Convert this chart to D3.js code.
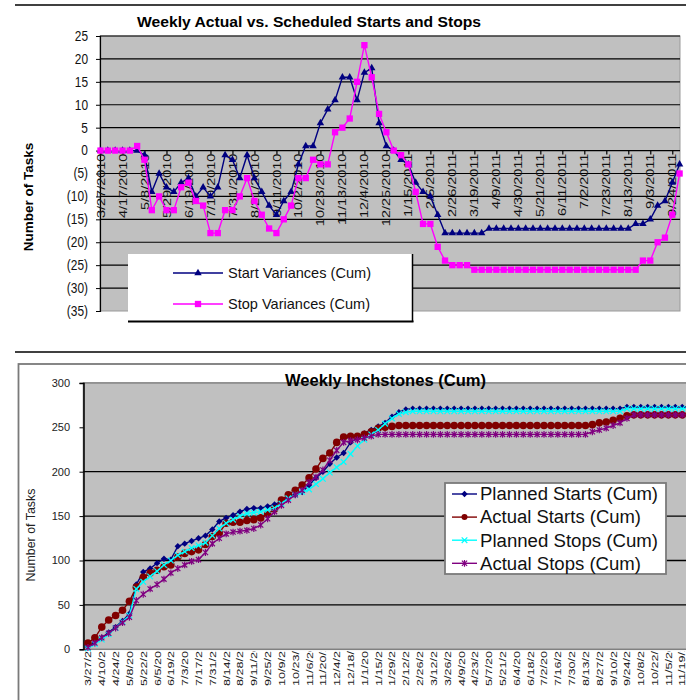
<!DOCTYPE html>
<html>
<head>
<meta charset="utf-8">
<script src="https://cdn.jsdelivr.net/npm/d3@7"></script>
<style>
  html, body { margin: 0; padding: 0; background: #fff; }
  svg { display: block; font-family: "Liberation Sans", Arial, sans-serif; }
</style>
</head>
<body>
<script>
// ---------- Weekly variance chart (cumulative) ----------
const varianceTickLabels = [
  "3/27/2010","4/17/2010","5/8/2010","5/29/2010","6/19/2010","7/10/2010","7/31/2010",
  "8/21/2010","9/11/2010","10/2/2010","10/23/2010","11/13/2010","12/4/2010","12/25/2010",
  "1/15/2011","2/5/2011","2/26/2011","3/19/2011","4/9/2011","4/30/2011","5/21/2011",
  "6/11/2011","7/2/2011","7/23/2011","8/13/2011","9/3/2011","9/24/2011"
];
const varianceYTicks = [25,20,15,10,5,0,-5,-10,-15,-20,-25,-30,-35];

const startVariances = [
  0,0,0,0,0,0,-1,-9,-5,-8,
  -9,-7,-6,-10,-8,-10,-8,-1,-2,-6,
  -1,-6,-9,-12,-14,-11,-9,-3,1,1,
  6,9,11,16,16,11,17,18,6,1,
  0,-2,-3,-7,-9,-10,-14,-18,-18,-18,
  -18,-18,-18,-17,-17,-17,-17,-17,-17,-17,
  -17,-17,-17,-17,-17,-17,-17,-17,-17,-17,
  -17,-17,-17,-16,-16,-15,-12,-11,-7,-3
];
const stopVariances = [
  0,0,0,0,0,1,-2,-13,-10,-13,
  -13,-8,-7,-11,-12,-18,-18,-13,-13,-10,
  -6,-11,-14,-17,-18,-15,-12,-6,-6,-2,
  -3,-3,4,5,7,15,23,16,8,4,
  0,-1,-3,-9,-16,-16,-21,-24,-25,-25,
  -25,-26,-26,-26,-26,-26,-26,-26,-26,-26,
  -26,-26,-26,-26,-26,-26,-26,-26,-26,-26,
  -26,-26,-26,-26,-24,-24,-20,-19,-14,-5
];

// ---------- Weekly inchstones chart (cumulative) ----------
const inchTickLabels = [
  "3/27/2010","4/10/2010","4/24/2010","5/8/2010","5/22/2010","6/5/2010","6/19/2010",
  "7/3/2010","7/17/2010","7/31/2010","8/14/2010","8/28/2010","9/11/2010","9/25/2010",
  "10/9/2010","10/23/2010","11/6/2010","11/20/2010","12/4/2010","12/18/2010",
  "1/1/2011","1/15/2011","1/29/2011","2/12/2011","2/26/2011","3/12/2011","3/26/2011",
  "4/9/2011","4/23/2011","5/7/2011","5/21/2011","6/4/2011","6/18/2011","7/2/2011",
  "7/16/2011","7/30/2011","8/13/2011","8/27/2011","9/10/2011","9/24/2011","10/8/2011",
  "10/22/2011","11/5/2011","11/19/2011"
];
const inchYTicks = [0,50,100,150,200,250,300];
const inchGridValues = [50,100,150,200];

const plannedStarts = [
  3,8,13,19,25,32,40,73,87,91,
  97,102,101,116,119,122,125,128,135,144,
  148,151,155,158,159,159,161,163,167,171,
  174,177,185,193,200,209,216,221,233,238,
  243,247,251,255,262,267,270,271,271,271,
  271,271,271,271,271,271,271,271,271,271,
  271,271,271,271,271,271,271,271,271,271,
  271,271,271,271,271,271,271,271,273,273,
  273,273,273,273,273,273,273,273,273
];
const actualStarts = [
  7,13,25,33,38,44,54,70,81,86,
  89,93,95,104,108,110,112,118,127,131,
  142,143,143,145,146,148,152,158,168,174,
  179,185,193,203,215,221,233,239,240,240,
  242,245,249,250,251,252,252,252,252,252,
  252,252,252,252,252,252,252,252,252,252,
  252,252,252,252,252,252,252,252,252,252,
  252,252,252,253,255,256,258,260,263,264,
  264,264,264,264,264,264,264,264,264
];
const plannedStops = [
  1,6,11,17,24,31,38,68,76,82,
  88,95,100,106,110,114,117,120,128,136,
  142,146,150,153,154,155,157,159,164,170,
  174,177,180,186,192,199,205,211,220,229,
  236,242,247,254,260,265,267,268,268,268,
  268,268,268,268,268,268,268,268,268,268,
  268,268,268,268,268,268,268,268,268,268,
  268,268,268,268,268,268,268,268,271,271,
  271,271,271,271,271,271,271,271,271
];
const actualStops = [
  2,7,13,18,24,30,36,55,62,68,
  73,79,86,91,95,99,101,109,119,125,
  130,132,133,134,136,140,147,155,162,168,
  174,179,188,194,202,213,224,233,235,236,
  238,240,242,242,242,242,242,242,242,242,
  242,242,242,242,242,242,242,242,242,242,
  242,242,242,242,242,242,242,242,242,242,
  242,242,242,245,247,249,252,255,260,264,
  264,264,264,264,264,264,264,264,264
];

const svg = d3.select("body").append("svg").attr("width", 686).attr("height", 700);
const FONT = "'Liberation Sans', Arial, sans-serif";

// text helper: translate, optional horizontal squeeze, optional rotation
function label(parent, x, y, str, o = {}) {
  const g = parent.append("g")
    .attr("transform", `translate(${x},${y}) scale(${o.sx || 1},1)` + (o.rot ? ` rotate(${o.rot})` : ""));
  const t = g.append("text")
    .attr("x", 0).attr("y", 0)
    .attr("font-family", FONT)
    .attr("font-size", o.size || 12)
    .attr("font-weight", o.bold ? "bold" : "normal")
    .attr("fill", o.fill || "#000")
    .attr("text-anchor", o.anchor || "start")
    .attr("dy", o.dy || 0)
    .text(str);
  if (o.len) t.attr("textLength", o.len).attr("lengthAdjust", "spacingAndGlyphs");
  return t;
}

// ================= TOP CHART =================
const topG = svg.append("g");
topG.append("line").attr("x1", 15).attr("x2", 686).attr("y1", 5).attr("y2", 5)
  .attr("stroke", "#000").attr("stroke-width", 1.5);

const xT = d3.scalePoint().domain(d3.range(startVariances.length)).range([100.5, 679.6]);
const yT = d3.scaleLinear().domain([-35, 25]).range([311, 36]);

topG.append("rect").attr("x", 100).attr("y", 36).attr("width", 580).attr("height", 275)
  .attr("fill", "#c0c0c0").attr("stroke", "#9a9a9a").attr("stroke-width", 1);

// horizontal gridlines
topG.append("g").selectAll("line").data(varianceYTicks.filter(v => v > -35)).join("line")
  .attr("x1", 100).attr("x2", 680)
  .attr("y1", d => yT(d)).attr("y2", d => yT(d))
  .attr("stroke", "#000").attr("stroke-width", 1.2);

// value axis
const yAxisT = topG.append("g").attr("transform", "translate(100,0)")
  .call(d3.axisLeft(yT).tickValues(varianceYTicks).tickSize(4).tickFormat(""));
yAxisT.select(".domain").attr("stroke", "#000").attr("stroke-width", 1.2);
yAxisT.selectAll(".tick line").attr("stroke", "#000");
varianceYTicks.forEach(v => {
  label(topG, 88, yT(v), v < 0 ? `(${-v})` : String(v),
    { size: 14, sx: 0.85, anchor: "end", dy: "0.35em", fill: "#111" });
});

// category axis crossing at zero
const tickIdx = varianceTickLabels.map((_, k) => k * 3);
const xAxisT = topG.append("g").attr("transform", `translate(0,${yT(0)})`)
  .call(d3.axisBottom(xT).tickValues(tickIdx).tickSize(4).tickFormat(""));
xAxisT.select(".domain").remove();
xAxisT.selectAll(".tick line").attr("stroke", "#000").attr("stroke-width", 1.2);
tickIdx.forEach((i, k) => {
  label(topG, xT(i), yT(0) + 3, varianceTickLabels[k],
    { size: 14.5, sx: 0.8, rot: -90, anchor: "end", dy: "0.35em", fill: "#111" });
});

// series
const lineT = d3.line().x((d, i) => xT(i)).y(d => yT(d));
topG.append("path").datum(startVariances).attr("d", lineT)
  .attr("fill", "none").attr("stroke", "#000080").attr("stroke-width", 1.4);
topG.append("g").selectAll("path").data(startVariances).join("path")
  .attr("transform", (d, i) => `translate(${xT(i)},${yT(d)})`)
  .attr("d", d3.symbol(d3.symbolTriangle, 24)).attr("fill", "#000080");

topG.append("path").datum(stopVariances).attr("d", lineT)
  .attr("fill", "none").attr("stroke", "#ff00ff").attr("stroke-width", 1.4);
topG.append("g").selectAll("path").data(stopVariances).join("path")
  .attr("transform", (d, i) => `translate(${xT(i)},${yT(d)})`)
  .attr("d", d3.symbol(d3.symbolSquare, 40)).attr("fill", "#ff00ff");

// legend
const lgT = topG.append("g");
lgT.append("rect").attr("x", 128).attr("y", 254).attr("width", 285).attr("height", 68).attr("fill", "#fff");
lgT.append("line").attr("x1", 128).attr("x2", 413.5).attr("y1", 321.5).attr("y2", 321.5)
  .attr("stroke", "#000").attr("stroke-width", 2);
lgT.append("line").attr("x1", 412.5).attr("x2", 412.5).attr("y1", 254).attr("y2", 322)
  .attr("stroke", "#000").attr("stroke-width", 1.5);
const lgItemsT = [
  { name: "Start Variances (Cum)", color: "#000080", sym: d3.symbolTriangle, size: 24, y: 273, len: 143 },
  { name: "Stop Variances (Cum)", color: "#ff00ff", sym: d3.symbolSquare, size: 40, y: 304, len: 142 }
];
lgItemsT.forEach(it => {
  lgT.append("line").attr("x1", 173).attr("x2", 223).attr("y1", it.y).attr("y2", it.y)
    .attr("stroke", it.color).attr("stroke-width", 1.4);
  lgT.append("path").attr("transform", `translate(198,${it.y})`)
    .attr("d", d3.symbol(it.sym, it.size)).attr("fill", it.color);
  label(lgT, 228, it.y + 5, it.name, { size: 15, len: it.len, fill: "#111" });
});

label(topG, 137, 27, "Weekly Actual vs. Scheduled Starts and Stops", { size: 15, bold: true, len: 344 });
label(topG, 28, 197, "Number of Tasks", { size: 13.5, bold: true, rot: -90, anchor: "middle", dy: "0.35em" });

// ================= BOTTOM CHART =================
const botG = svg.append("g");
botG.append("line").attr("x1", 15).attr("x2", 686).attr("y1", 352).attr("y2", 352)
  .attr("stroke", "#000").attr("stroke-width", 1.5);
botG.append("rect").attr("x", 18.5).attr("y", 364).attr("width", 700).attr("height", 400)
  .attr("fill", "#fff").attr("stroke", "#7a7a7a").attr("stroke-width", 1.8);

const xB = d3.scaleBand().domain(d3.range(plannedStarts.length)).range([84.5, 84.5 + 6.91 * plannedStarts.length]);
const cx = i => xB(i) + xB.bandwidth() / 2;
const yB = d3.scaleLinear().domain([0, 300]).range([649.3, 382.9]);

botG.append("rect").attr("x", 83.5).attr("y", 382.9).attr("width", 620).attr("height", 649.3 - 382.9)
  .attr("fill", "#c0c0c0").attr("stroke", "#808080").attr("stroke-width", 1.5);

botG.append("g").selectAll("line").data(inchGridValues).join("line")
  .attr("x1", 83.5).attr("x2", 700)
  .attr("y1", d => yB(d)).attr("y2", d => yB(d))
  .attr("stroke", "#000").attr("stroke-width", 1.3);

const yAxisB = botG.append("g").attr("transform", "translate(83.5,0)")
  .call(d3.axisLeft(yB).tickValues(inchYTicks).tickSize(4).tickFormat(""));
yAxisB.select(".domain").attr("stroke", "#000").attr("stroke-width", 1.5);
yAxisB.selectAll(".tick line").attr("stroke", "#000");
inchYTicks.forEach(v => {
  label(botG, 70, yB(v), String(v), { size: 11, anchor: "end", dy: "0.35em", fill: "#222" });
});

// category axis labels, clipped under the plot
svg.append("clipPath").attr("id", "lblclip").append("rect")
  .attr("x", 0).attr("y", 651).attr("width", 686).attr("height", 60);
const lblG = botG.append("g").attr("clip-path", "url(#lblclip)");
inchTickLabels.forEach((s, k) => {
  const i = k * 2;
  label(lblG, Math.min(cx(i), 681.5), 686, s, { size: 12.6, sx: 0.78, rot: -90, anchor: "start", dy: "0.35em", fill: "#222" });
});

const lineB = d3.line().x((d, i) => cx(i)).y(d => yB(d));
const diamond = "M0,-3.2L3.2,0L0,3.2L-3.2,0Z";
const cross = "M-2.8,-2.8L2.8,2.8M-2.8,2.8L2.8,-2.8";
const star = "M-2.6,-2.6L2.6,2.6M-2.6,2.6L2.6,-2.6M0,-3.4L0,3.4";

const seriesB = [
  { name: "Planned Starts (Cum)", data: plannedStarts, color: "#000080", mark: "diamond", len: 178 },
  { name: "Actual Starts (Cum)", data: actualStarts, color: "#800000", mark: "circle", len: 161 },
  { name: "Planned Stops (Cum)", data: plannedStops, color: "#00ffff", mark: "cross", len: 178 },
  { name: "Actual Stops (Cum)", data: actualStops, color: "#800080", mark: "star", len: 161 }
];

function drawMark(g, kind, color, big) {
  if (kind === "diamond") g.append("path").attr("d", diamond).attr("fill", color);
  else if (kind === "circle") g.append("circle").attr("r", big ? 3.8 : 3).attr("fill", color);
  else if (kind === "cross") g.append("path").attr("d", cross).attr("stroke", color).attr("stroke-width", 1.2).attr("fill", "none");
  else g.append("path").attr("d", star).attr("stroke", color).attr("stroke-width", 1.2).attr("fill", "none");
}

seriesB.forEach(s => {
  botG.append("path").datum(s.data).attr("d", lineB)
    .attr("fill", "none").attr("stroke", s.color).attr("stroke-width", 1.4);
  const mg = botG.append("g");
  s.data.forEach((v, i) => {
    drawMark(mg.append("g").attr("transform", `translate(${cx(i)},${yB(v)})`), s.mark, s.color, true);
  });
});

// legend
const lgB = botG.append("g");
lgB.append("rect").attr("x", 445).attr("y", 483).attr("width", 221).attr("height", 91)
  .attr("fill", "#fff").attr("stroke", "#7a7a7a").attr("stroke-width", 1.8);
seriesB.forEach((s, k) => {
  const y = 494 + k * 23.1;
  lgB.append("line").attr("x1", 452).attr("x2", 477).attr("y1", y).attr("y2", y)
    .attr("stroke", s.color).attr("stroke-width", 1.4);
  drawMark(lgB.append("g").attr("transform", `translate(464.5,${y})`), s.mark, s.color, false);
  label(lgB, 480, y + 6.3, s.name, { size: 18, len: s.len, fill: "#111" });
});

label(botG, 285, 386, "Weekly Inchstones (Cum)", { size: 16, bold: true, len: 201 });
label(botG, 31, 535, "Number of Tasks", { size: 12.4, rot: -90, anchor: "middle", dy: "0.35em", fill: "#222" });
</script>
</body>
</html>
